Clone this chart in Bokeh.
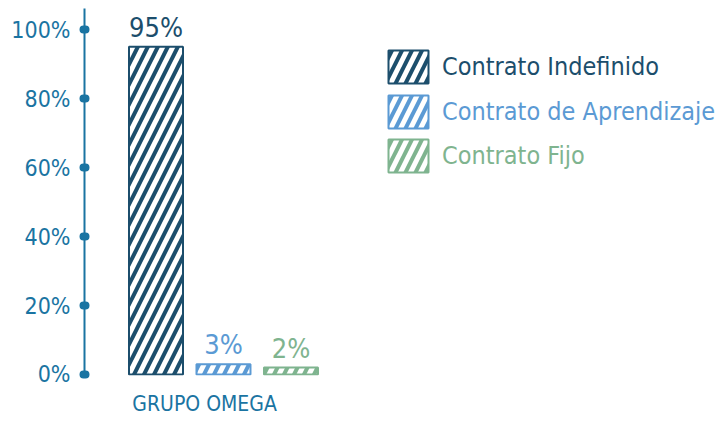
from bokeh.plotting import figure
from bokeh.models import ColumnDataSource, Range1d, Legend, LegendItem, FixedTicker, PrintfTickFormatter
from bokeh.core.properties import value
from bokeh.embed import file_html
from bokeh.resources import INLINE

# ---- data ----
group = "GRUPO OMEGA"
series = ["Contrato Indefinido", "Contrato de Aprendizaje", "Contrato Fijo"]
values = [95, 3, 2]
value_labels = ["95%", "3%", "2%"]
colors = ["#1c4e6c", "#5b9ad4", "#7fb48f"]
y_ticks = [0, 20, 40, 60, 80, 100]

FONT = "'DejaVu Sans Condensed', 'Roboto Condensed', 'Open Sans Condensed', 'Liberation Sans Narrow', Roboto, sans-serif"
AXIS_COLOR = "#1a74a2"

xs = list(range(len(series)))
src = ColumnDataSource(dict(x=xs, top=values, label=value_labels, color=colors, name=series))

p = figure(width=716, height=421, output_backend="svg", toolbar_location=None,
           x_range=Range1d(-1.059, 8.304), y_range=Range1d(-0.29, 106.1),
           min_border_left=84, min_border_right=0, min_border_top=8, min_border_bottom=46)
p.outline_line_color = None
p.grid.visible = False
p.background_fill_color = "white"
p.border_fill_color = "white"

r = p.vbar(x="x", top="top", width=0.8, source=src,
           fill_color="color", line_color="color", line_width=2,
           hatch_pattern="/", hatch_color="white", hatch_weight=5, hatch_scale=20)

p.text(x="x", y="top", text="label", source=src, text_color="color",
       text_align="center", text_baseline="bottom", y_offset=-4,
       text_font=value(FONT), text_font_size="27px")

# y axis
ya = p.yaxis[0]
ya.ticker = FixedTicker(ticks=y_ticks)
ya.formatter = PrintfTickFormatter(format="%d%%")
ya.axis_line_color = AXIS_COLOR
ya.axis_line_width = 2
ya.major_tick_line_color = AXIS_COLOR
ya.major_tick_line_width = 8
ya.major_tick_line_cap = "round"
ya.major_tick_in = 1
ya.major_tick_out = 1
ya.minor_tick_line_color = None
ya.major_label_standoff = 13
ya.major_label_text_font = FONT
ya.major_label_text_font_size = "23px"
ya.major_label_text_color = AXIS_COLOR

# x axis: one tick carrying the group name, centred under the group
group_pos = sum(xs) / len(xs) - 0.28
xa = p.xaxis[0]
xa.ticker = FixedTicker(ticks=[group_pos])
xa.major_label_overrides = {group_pos: group}
xa.axis_line_color = None
xa.major_tick_line_color = None
xa.minor_tick_line_color = None
xa.major_tick_out = 0
xa.major_tick_in = 0
xa.major_label_standoff = 16
xa.major_label_text_font = FONT
xa.major_label_text_font_size = "21px"
xa.major_label_text_color = AXIS_COLOR

# legends (one per series so each label keeps its colour)
for i, name in enumerate(series):
    leg = Legend(items=[LegendItem(label=name, renderers=[r], index=i)],
                 location=(299, 288 - i * 44.5),
                 glyph_width=50, glyph_height=41, label_height=41,
                 label_standoff=9, padding=0, margin=0, spacing=0,
                 border_line_color=None, background_fill_alpha=0,
                 label_text_font=FONT, label_text_font_size="25px",
                 label_text_color=colors[i])
    p.add_layout(leg)

open("out.html", "w").write(file_html(p, INLINE))
